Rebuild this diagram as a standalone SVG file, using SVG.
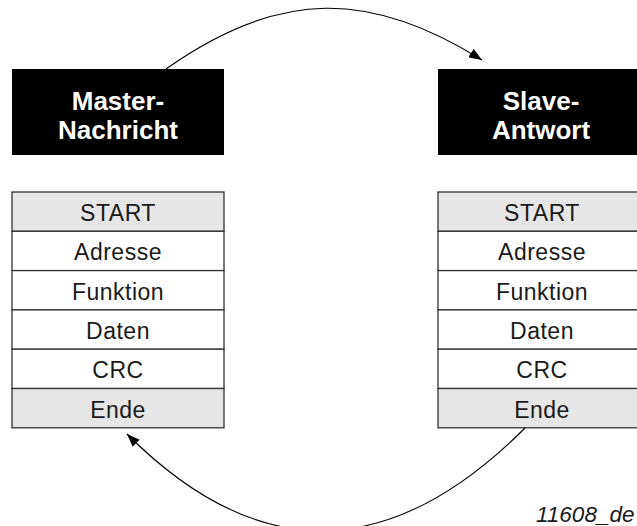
<svg xmlns="http://www.w3.org/2000/svg" width="637" height="526" viewBox="0 0 637 526">
  <style>
    .hdr { fill: #000; }
    .hdr-text { fill: #fff; font-family: "Liberation Sans", Arial, sans-serif; font-weight: bold; font-size: 26px; text-anchor: middle; }
    .cell { fill: #fff; stroke: #333; stroke-width: 1.3; }
    .cell.shade { fill: #e6e6e6; }
    .cell-text { fill: #1a1a1a; font-family: "Liberation Sans", Arial, sans-serif; font-size: 23px; letter-spacing: 0.5px; text-anchor: middle; }
    .flow { fill: none; stroke: #000; stroke-width: 1.2; }
    .tag { fill: #1a1a1a; font-family: "Liberation Sans", Arial, sans-serif; font-style: italic; font-size: 22.5px; }
  </style>
  <defs>
    <marker id="arrow" markerUnits="userSpaceOnUse" markerWidth="14" markerHeight="10" refX="13" refY="5" orient="auto">
      <path d="M0,0 L13,5 L0,10 Z" fill="#000"/>
    </marker>
  </defs>
  <rect width="637" height="526" fill="#fff"/>

  <!-- request frame (master) -->
  <g id="master-header">
    <rect class="hdr" x="12" y="69" width="212" height="86"/>
    <text class="hdr-text" x="118" y="110">Master-</text>
    <text class="hdr-text" x="118" y="138.5">Nachricht</text>
  </g>
  <g id="master-frame">
    <rect class="cell shade" x="12" y="192" width="212" height="39.3"/>
    <rect class="cell" x="12" y="231.3" width="212" height="39.3"/>
    <rect class="cell" x="12" y="270.6" width="212" height="39.3"/>
    <rect class="cell" x="12" y="309.9" width="212" height="39.3"/>
    <rect class="cell" x="12" y="349.2" width="212" height="39.3"/>
    <rect class="cell shade" x="12" y="388.5" width="212" height="39.3"/>
    <text class="cell-text" x="118" y="221">START</text>
    <text class="cell-text" x="118" y="260.3">Adresse</text>
    <text class="cell-text" x="118" y="299.6">Funktion</text>
    <text class="cell-text" x="118" y="338.9">Daten</text>
    <text class="cell-text" x="118" y="378.2">CRC</text>
    <text class="cell-text" x="118" y="417.5">Ende</text>
  </g>

  <!-- response frame (slave) -->
  <g id="slave-header">
    <rect class="hdr" x="438" y="69" width="212" height="86"/>
    <text class="hdr-text" x="541" y="110">Slave-</text>
    <text class="hdr-text" x="541" y="138.5">Antwort</text>
  </g>
  <g id="slave-frame">
    <rect class="cell shade" x="438" y="192" width="212" height="39.3"/>
    <rect class="cell" x="438" y="231.3" width="212" height="39.3"/>
    <rect class="cell" x="438" y="270.6" width="212" height="39.3"/>
    <rect class="cell" x="438" y="309.9" width="212" height="39.3"/>
    <rect class="cell" x="438" y="349.2" width="212" height="39.3"/>
    <rect class="cell shade" x="438" y="388.5" width="212" height="39.3"/>
    <text class="cell-text" x="542" y="221">START</text>
    <text class="cell-text" x="542" y="260.3">Adresse</text>
    <text class="cell-text" x="542" y="299.6">Funktion</text>
    <text class="cell-text" x="542" y="338.9">Daten</text>
    <text class="cell-text" x="542" y="378.2">CRC</text>
    <text class="cell-text" x="542" y="417.5">Ende</text>
  </g>

  <!-- request / response cycle -->
  <g id="connectors">
    <path class="flow" d="M166,69 C280,-12 372,-9 482,60" marker-end="url(#arrow)"/>
    <path class="flow" d="M525,428 C392,561 260,567 127,434" marker-end="url(#arrow)"/>
  </g>

  <text class="tag" x="536" y="522">11608_de</text>
</svg>
